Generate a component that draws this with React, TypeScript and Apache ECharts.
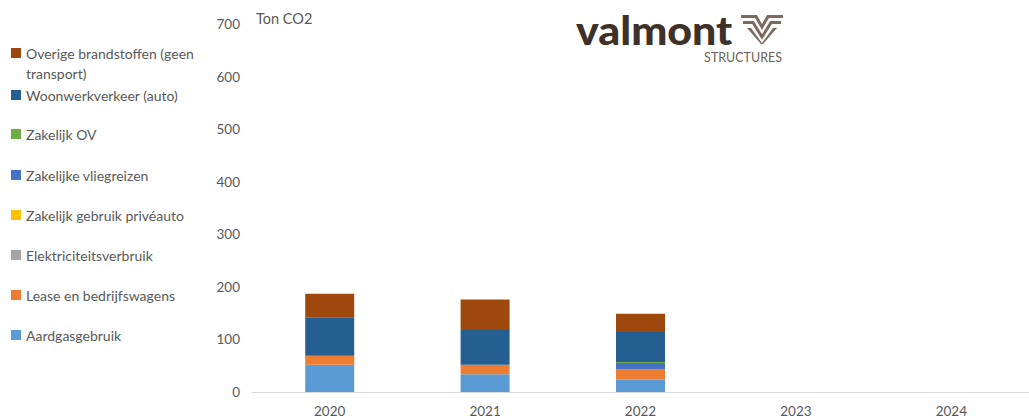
import React, { useEffect, useRef } from "react";
import * as echarts from "echarts";

const categories = ["2020", "2021", "2022", "2023", "2024"];
const seriesNames = [
  "Aardgasgebruik",
  "Lease en bedrijfswagens",
  "Elektriciteitsverbruik",
  "Zakelijk gebruik privéauto",
  "Zakelijke vliegreizen",
  "Zakelijk OV",
  "Woonwerkverkeer (auto)",
  "Overige brandstoffen (geen transport)",
];
const aardgas = [52, 34, 24, null, null];
const lease = [17, 18, 19, null, null];
const elektriciteit = [0, 0, 0, null, null];
const priveauto = [0, 0, 0, null, null];
const vliegreizen = [0, 0, 12, null, null];
const ov = [0, 0, 2, null, null];
const woonwerk = [72, 66, 57, null, null];
const overige = [46, 58, 35, null, null];
const seriesData = [aardgas, lease, elektriciteit, priveauto, vliegreizen, ov, woonwerk, overige];
const colors = ["#5B9BD5", "#ED7D31", "#A5A5A5", "#FFC000", "#4472C4", "#70AD47", "#255E91", "#9E480E"];
const yTicks = { min: 0, max: 700, interval: 100 };

// legend label text (line break as in reference; leading blank line keeps icon on first line)
const legendLabels: Record<string, string> = {
  "Overige brandstoffen (geen transport)": "\nOverige brandstoffen (geen\ntransport)",
};
const legendOrder = [
  "Overige brandstoffen (geen transport)",
  "Woonwerkverkeer (auto)",
  "Zakelijk OV",
  "Zakelijke vliegreizen",
  "Zakelijk gebruik privéauto",
  "Elektriciteitsverbruik",
  "Lease en bedrijfswagens",
  "Aardgasgebruik",
];
const legendY = [53, 95, 134, 175, 215, 255, 295, 335];

export default function App() {
  const ref = useRef<HTMLDivElement>(null);
  useEffect(() => {
    if (!ref.current) return;
    const chart = echarts.init(ref.current, null, { renderer: "svg" });
    const font = "Lato, 'Open Sans', sans-serif";
    const textColor = "#595959";
    const legends = legendOrder.map((name, i) => {
      const multi = name in legendLabels;
      return {
        orient: "vertical",
        left: 11,
        top: multi ? legendY[i] - 30 : legendY[i] - 8,
        padding: 0,
        itemWidth: 10,
        itemHeight: 10,
        icon: "rect",
        selectedMode: false,
        data: [name],
        formatter: (n: string) => legendLabels[n] || n,
        textStyle: {
          color: textColor,
          fontSize: 14,
          fontFamily: font,
          lineHeight: multi ? 20 : 16,
        },
      };
    });
    chart.setOption({
      animation: false,
      color: colors,
      legend: legends,
      grid: { left: 252, right: -7, top: 24, bottom: 26, containLabel: false },
      xAxis: {
        type: "category",
        data: categories,
        axisLine: { lineStyle: { color: "#d9d9d9", width: 1 } },
        axisTick: { show: false },
        axisLabel: { color: textColor, fontSize: 13.5, fontFamily: font, margin: 12 },
      },
      yAxis: {
        type: "value",
        min: yTicks.min,
        max: yTicks.max,
        interval: yTicks.interval,
        splitLine: { show: false },
        axisLine: { show: false },
        axisTick: { show: false },
        axisLabel: { color: textColor, fontSize: 13.5, fontFamily: font, margin: 12 },
      },
      series: seriesNames.map((name, i) => ({
        name,
        type: "bar",
        stack: "total",
        barWidth: 49,
        data: seriesData[i],
        itemStyle: { color: colors[i] },
      })),
      graphic: [
        {
          type: "text",
          left: 256,
          top: 11,
          style: { text: "Ton CO2", fill: textColor, fontSize: 14.5, fontFamily: font },
        },
        {
          type: "text",
          x: 576,
          y: 30,
          scaleX: 1.1,
          style: {
            text: "valmont",
            fill: "#3d3129",
            fontSize: 39,
            fontWeight: 900,
            lineHeight: 28,
            verticalAlign: "middle",
            fontFamily: "Lato, 'DejaVu Sans', sans-serif",
          },
        },
        {
          type: "group",
          x: 741,
          y: 15,
          children: [
            { type: "polyline", shape: { points: [[0, 1.5], [15, 1.5], [21, 12], [27, 1.5], [42, 1.5]] }, style: { stroke: "#7b6a5d", lineWidth: 3, fill: null } },
            { type: "polyline", shape: { points: [[2, 7.5], [12, 7.5], [21, 22], [30, 7.5], [40, 7.5]] }, style: { stroke: "#7b6a5d", lineWidth: 3, fill: null } },
            { type: "polygon", shape: { points: [[6, 13], [10, 13], [21, 28], [32, 13], [36, 13], [22, 29], [20, 29]] }, style: { fill: "#7b6a5d" } },
          ],
        },
        {
          type: "text",
          right: 1029 - 782,
          top: 51,
          style: { text: "STRUCTURES", fill: "#6d5f55", fontSize: 12.5, fontFamily: font },
        },
      ],
    });
    return () => chart.dispose();
  }, []);
  return (
    <div
      ref={ref}
      style={{ position: "fixed", left: 0, top: 0, width: 1029, height: 418, background: "#fff" }}
    />
  );
}
